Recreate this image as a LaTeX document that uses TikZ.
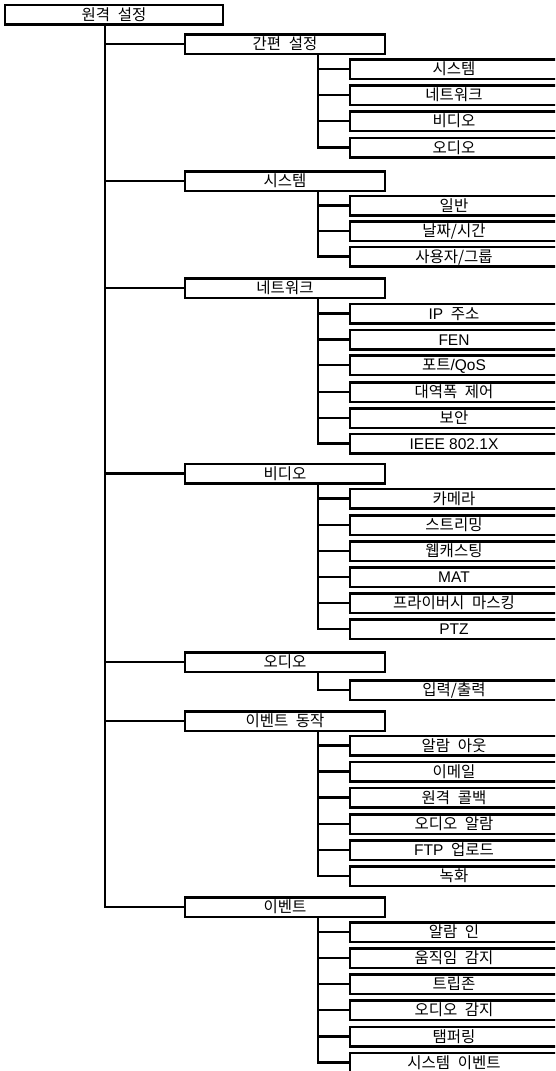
\documentclass[tikz,border=0pt]{standalone}
\usepackage{fontspec}
\setmainfont{Noto Sans CJK KR}[WordSpace=2.2]
\newfontfamily\lat{Liberation Sans}
\tikzset{
  x=1pt, y=-1pt,
  every node/.style={font=\fontsize{15.5}{15.5}\selectfont, text height=11pt, text depth=0pt, inner sep=0pt},
  boxbase/.style={draw, line width=2.5pt, fill=white, minimum height=19.5pt},
  rootbox/.style={boxbase, minimum width=218pt},
  onebox/.style={boxbase, minimum width=200pt},
  twobox/.style={boxbase, minimum width=208pt},
  link/.style={line width=2.5pt},
}
\begin{document}
\begin{tikzpicture}
\useasboundingbox (0,0) rectangle (555,1071);
\clip (0,0) rectangle (555,1071);
\fill[white] (0,0) rectangle (555,1071);

\node[rootbox] (root) at (114,14.5) {원격 설정};
\coordinate (rs) at ([xshift=-9pt]root.south);

% level 1
\node[onebox] (a) at (285,44) {간편 설정};
\node[onebox] (b) at (285,181) {시스템};
\node[onebox] (c) at (285,288) {네트워크};
\node[onebox] (d) at (285,473.5) {비디오};
\node[onebox] (e) at (285,662) {오디오};
\node[onebox] (f) at (285,721) {이벤트 동작};
\node[onebox] (g) at (285,907) {이벤트};

\foreach \n in {a,b,c,d,e,f,g}{
  \coordinate (\n s) at ([xshift=33pt]\n.south);
}

% level 2
\node[twobox] (a1) at (454,69) {시스템};
\node[twobox] (a2) at (454,95) {네트워크};
\node[twobox] (a3) at (454,121) {비디오};
\node[twobox] (a4) at (454,147.5) {오디오};

\node[twobox] (b1) at (454,205.5) {일반};
\node[twobox] (b2) at (454,231) {날짜/시간};
\node[twobox] (b3) at (454,256.5) {사용자/그룹};

\node[twobox] (c1) at (454,313.5) {{\lat IP} 주소};
\node[twobox] (c2) at (454,339.5) {\lat FEN};
\node[twobox] (c3) at (454,365) {포트{\lat /QoS}};
\node[twobox] (c4) at (454,392) {대역폭 제어};
\node[twobox] (c5) at (454,418) {보안};
\node[twobox] (c6) at (454,443.5) {\lat IEEE 802.1X};

\node[twobox] (d1) at (454,498.5) {카메라};
\node[twobox] (d2) at (454,525) {스트리밍};
\node[twobox] (d3) at (454,551) {웹캐스팅};
\node[twobox] (d4) at (454,577) {\lat MAT};
\node[twobox] (d5) at (454,603) {프라이버시 마스킹};
\node[twobox] (d6) at (454,629) {\lat PTZ};

\node[twobox] (e1) at (454,690) {입력/출력};

\node[twobox] (f1) at (454,745.5) {알람 아웃};
\node[twobox] (f2) at (454,771.5) {이메일};
\node[twobox] (f3) at (454,797.5) {원격 콜백};
\node[twobox] (f4) at (454,824) {오디오 알람};
\node[twobox] (f5) at (454,850) {{\lat FTP} 업로드};
\node[twobox] (f6) at (454,876) {녹화};

\node[twobox] (g1) at (454,932) {알람 인};
\node[twobox] (g2) at (454,958) {움직임 감지};
\node[twobox] (g3) at (454,984) {트립존};
\node[twobox] (g4) at (454,1010) {오디오 감지};
\node[twobox] (g5) at (454,1036.5) {탬퍼링};
\node[twobox] (g6) at (454,1062.5) {시스템 이벤트};

% connectors
\foreach \n in {a,b,c,d,e,f,g}{
  \draw[link] (rs) |- (\n.west);
}
\foreach \n in {a1,a2,a3,a4}{ \draw[link] (as) |- (\n.west); }
\foreach \n in {b1,b2,b3}{ \draw[link] (bs) |- (\n.west); }
\foreach \n in {c1,c2,c3,c4,c5,c6}{ \draw[link] (cs) |- (\n.west); }
\foreach \n in {d1,d2,d3,d4,d5,d6}{ \draw[link] (ds) |- (\n.west); }
\foreach \n in {e1}{ \draw[link] (es) |- (\n.west); }
\foreach \n in {f1,f2,f3,f4,f5,f6}{ \draw[link] (fs) |- (\n.west); }
\foreach \n in {g1,g2,g3,g4,g5,g6}{ \draw[link] (gs) |- (\n.west); }
\end{tikzpicture}
\end{document}
